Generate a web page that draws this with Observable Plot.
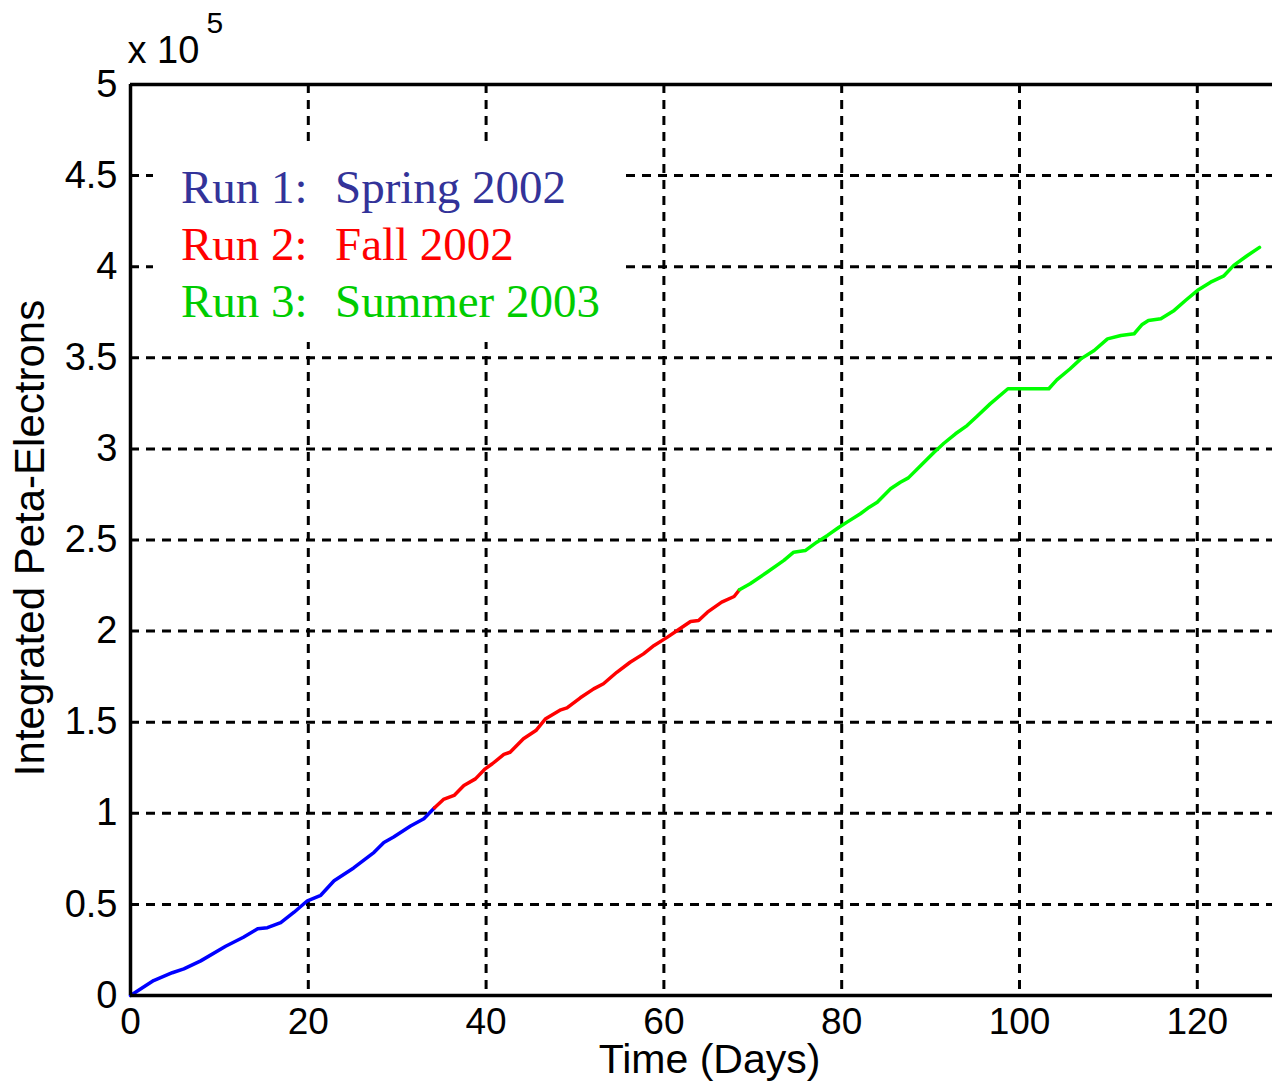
<!DOCTYPE html>
<html>
<head>
<meta charset="utf-8">
<script src="https://cdn.jsdelivr.net/npm/d3@7"></script>
<script src="https://cdn.jsdelivr.net/npm/@observablehq/plot@0.6"></script>
<style>
  html, body { margin: 0; padding: 0; background: white; }
  #wrap { position: relative; width: 1272px; height: 1081px; overflow: hidden; }
  #legend {
    position: absolute; left: 153px; top: 147px; width: 472px; height: 195px;
    background: white; font-family: "Liberation Serif", "Times New Roman", serif;
    font-size: 47px; line-height: 57px; padding-top: 12px; box-sizing: border-box;
  }
  .row { position: relative; height: 57px; white-space: nowrap; }
  .row span { position: absolute; top: 0; }
  .c1 { left: 28px; }
  .c2 { left: 182px; }
</style>
</head>
<body>
<div id="wrap"></div>
<script>
// Run 1: Spring 2002
const days1 = [0, 2.6, 4.7, 6.0, 7.9, 10.7, 12.7, 14.3, 15.4, 16.9, 18.4, 19.9, 21.4, 22.9, 25.1, 27.4, 28.5, 29.6, 31.5, 33.0, 34.2];
const vals1 = [0, 8200, 12500, 14600, 19000, 27000, 32000, 36600, 37200, 40000, 45700, 52000, 55000, 63000, 70000, 78600, 84000, 87000, 93000, 97000, 103000];
// Run 2: Fall 2002
const days2 = [34.2, 35.2, 36.4, 37.5, 38.8, 39.9, 40.7, 42.0, 42.7, 44.2, 45.6, 46.7, 48.4, 49.1, 50.6, 52.1, 53.2, 54.7, 56.2, 57.7, 58.9, 60.4, 61.5, 63.0, 63.9, 64.9, 66.5, 67.9, 68.5];
const vals2 = [103000, 107600, 109800, 115300, 118900, 124400, 127200, 132300, 133500, 140900, 145400, 151900, 156800, 157900, 163400, 168300, 171100, 177400, 182900, 187500, 192100, 196700, 200300, 205300, 205800, 210400, 215900, 219000, 222700];
// Run 3: Summer 2003
const days3 = [68.5, 69.7, 71.6, 73.5, 74.6, 75.9, 77.2, 78.4, 79.7, 80.6, 82.1, 83.1, 84.0, 85.5, 86.6, 87.5, 88.9, 90.4, 91.5, 92.8, 94.1, 95.2, 96.7, 98.7, 103.3, 104.2, 105.7, 106.9, 108.4, 109.9, 111.4, 112.9, 113.8, 114.5, 115.9, 117.4, 118.7, 120.0, 121.5, 123.0, 124.1, 125.6, 127.0];
const vals3 = [222700, 226000, 232300, 238800, 243300, 244200, 248800, 252500, 257000, 259800, 264400, 268000, 270700, 278100, 281700, 284100, 290900, 298200, 303100, 308300, 312800, 317800, 324700, 333000, 333000, 337900, 344000, 349400, 354000, 360400, 362200, 363200, 368300, 370500, 371400, 376000, 381600, 386900, 391500, 395000, 400700, 406000, 410600];

const xTicks = [0, 20, 40, 60, 80, 100, 120];
const yTicks = [0, 50000, 100000, 150000, 200000, 250000, 300000, 350000, 400000, 450000, 500000];
const legendRuns = ["Run 1:", "Run 2:", "Run 3:"];
const legendSeasons = ["Spring 2002", "Fall 2002", "Summer 2003"];
const legendColors = ["#333399", "#ff0000", "#00cc00"];
const lineColors = ["#0000ff", "#ff0000", "#00ff00"];
const xLabel = "Time (Days)";
const yLabel = "Integrated Peta-Electrons";

const toRows = (ds, vs) => ds.map((d, i) => ({day: d, value: vs[i]}));
const runs = [toRows(days1, vals1), toRows(days2, vals2), toRows(days3, vals3)];

const grid = {stroke: "black", strokeOpacity: 1, strokeWidth: 3, strokeDasharray: "9,7"};

const chart = Plot.plot({
  width: 1272,
  height: 1081,
  marginLeft: 130,
  marginRight: 0,
  marginTop: 84,
  marginBottom: 86,
  style: {fontFamily: "'Liberation Sans', Arial, sans-serif", fontSize: "38px", background: "white", color: "black"},
  x: {domain: [0, 128.46]},
  y: {domain: [0, 500000]},
  marks: [
    Plot.gridX(xTicks.slice(1), grid),
    Plot.gridY(yTicks.slice(1, -1), grid),
    ...runs.map((r, i) => Plot.line(r, {x: "day", y: "value", stroke: lineColors[i], strokeWidth: 3.5})),
    Plot.ruleX([0], {stroke: "black", strokeWidth: 3.5}),
    Plot.ruleY([0, 500000], {stroke: "black", strokeWidth: 3.5}),
    Plot.axisX(xTicks, {tickSize: 0, tickPadding: 12, fontSize: 37, label: null}),
    Plot.axisY(yTicks, {tickSize: 0, tickPadding: 13, fontSize: 38, label: null, tickFormat: d => String(d / 1e5)}),
    Plot.text([xLabel], {frameAnchor: "bottom", dx: 8, dy: 64, fontSize: 41, lineAnchor: "middle", textAnchor: "middle"}),
    Plot.text([yLabel], {frameAnchor: "left", rotate: -90, dx: -100, dy: -2, fontSize: 42, lineAnchor: "middle", textAnchor: "middle"}),
    Plot.text(["x 10"], {frameAnchor: "top-left", textAnchor: "start", lineAnchor: "bottom", dx: -3, dy: -22, fontSize: 38}),
    Plot.text(["5"], {frameAnchor: "top-left", textAnchor: "start", lineAnchor: "bottom", dx: 76, dy: -52, fontSize: 30})
  ]
});

const wrap = document.getElementById("wrap");
wrap.appendChild(chart);

const legend = document.createElement("div");
legend.id = "legend";
legendRuns.forEach((r, i) => {
  const row = document.createElement("div");
  row.className = "row";
  row.style.color = legendColors[i];
  const a = document.createElement("span"); a.className = "c1"; a.textContent = r;
  const b = document.createElement("span"); b.className = "c2"; b.textContent = legendSeasons[i];
  row.appendChild(a); row.appendChild(b);
  legend.appendChild(row);
});
wrap.appendChild(legend);
</script>
</body>
</html>
